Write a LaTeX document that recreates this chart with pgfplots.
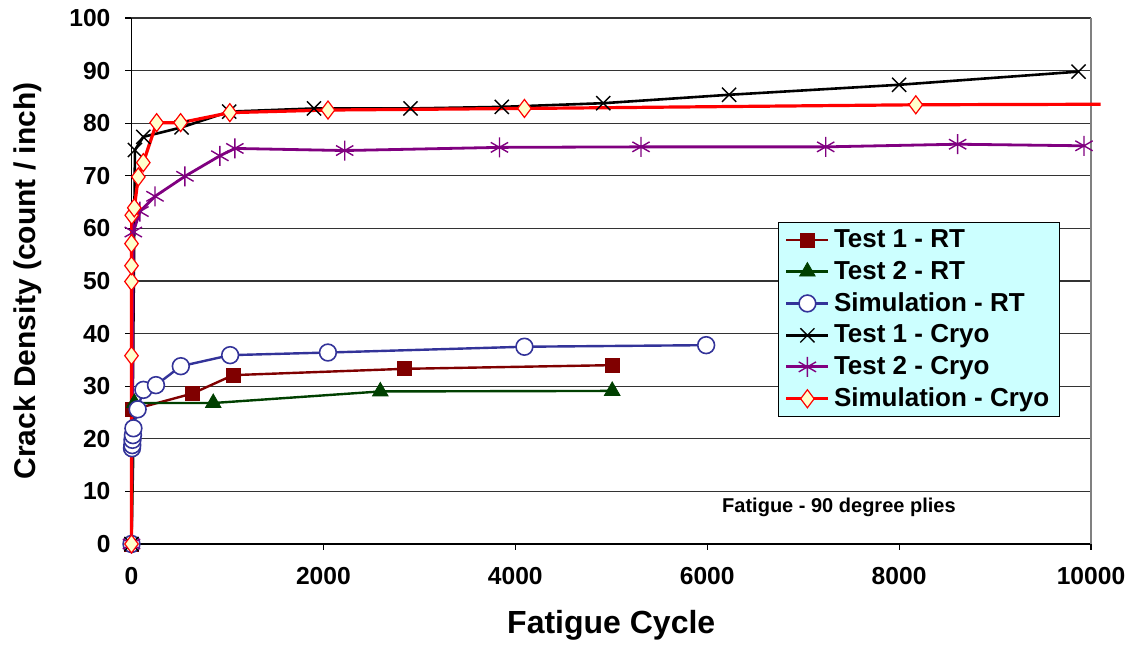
\documentclass[border=0pt]{standalone}
\usepackage{fontspec}
\setmainfont{Liberation Sans}
\usepackage{pgfplots}
\pgfplotsset{compat=1.18}

\definecolor{t1rt}{RGB}{128,0,0}
\definecolor{t2rt}{RGB}{0,64,0}
\definecolor{simrt}{RGB}{51,51,153}
\definecolor{t2cr}{RGB}{128,0,128}
\definecolor{legbg}{RGB}{204,255,255}
\definecolor{dfill}{RGB}{255,255,204}

\begin{document}
\begin{tikzpicture}
\begin{axis}[
  scale only axis,
  width=479.75pt, height=263pt,
  xmin=0, xmax=10000, ymin=0, ymax=100,
  enlargelimits=false,
  clip=false,
  axis x line*=bottom, axis y line*=left,
  axis line style={black, line width=0.8pt},
  xtick={0,2000,...,10000},
  ytick={0,10,...,100},
  scaled x ticks=false,
  tick align=outside,
  major tick length=3pt,
  tick style={black, line width=0.6pt},
  ymajorgrids,
  grid style={black!80, line width=0.6pt},
  /pgf/number format/assume math mode=true,
  /pgf/number format/1000 sep={},
  tick label style={font=\bfseries\fontsize{12.3}{14}\selectfont},
  xticklabel style={yshift=-5pt},
  yticklabel style={xshift=-4pt},
  xlabel={\bfseries Fatigue Cycle},
  xlabel style={font=\fontsize{16}{18}\selectfont, yshift=-6pt},
  ylabel={\bfseries Crack Density (count / inch)},
  ylabel style={font=\fontsize{15}{17}\selectfont, yshift=7pt},
  legend cell align=left,
  legend image code/.code={\draw[mark repeat=2,mark phase=2] plot coordinates {(0pt,0pt) (10.5pt,0pt) (21pt,0pt)};},
  legend style={at={(0.674,0.612)}, anchor=north west, fill=legbg, draw=black, line width=0.6pt,
    font=\bfseries\fontsize{13}{15}\selectfont, row sep=1.2pt, inner xsep=3pt, inner ysep=1.5pt},
]
\coordinate (sw) at (rel axis cs:0,0);
\coordinate (ne) at (rel axis cs:1,1);
\draw[gray, line width=0.7pt] (rel axis cs:1,0) -- (rel axis cs:1,1);

\addplot[t1rt, line width=1.2pt, mark=square*, mark size=3.5pt, mark options={fill=t1rt, draw=t1rt, line width=0.4pt}] coordinates {
 (0,0) (5,25.5) (634,28.6) (1059,32.1) (2844,33.3) (5010,34.0)
};
\addlegendentry{Test 1 - RT}

\addplot[t2rt, line width=1.2pt, mark=triangle*, mark size=4.5pt, mark options={fill=t2rt, draw=t2rt, line width=0.4pt}] coordinates {
 (0,0) (30,26.8) (852,26.8) (2593,29.0) (5010,29.1)
};
\addlegendentry{Test 2 - RT}

\addplot[simrt, line width=1.2pt, mark=*, mark size=4.2pt, mark options={fill=white, draw=simrt, line width=0.8pt}] coordinates {
 (0,0) (5,18.2) (8,18.8) (10,19.8) (15,20.7) (20,22.0) (64,25.6) (124,29.3) (255,30.2)
 (514,33.8) (1028,35.9) (2047,36.4) (4095,37.5) (5989,37.8)
};
\addlegendentry{Simulation - RT}

\addplot[black, line width=1.3pt, mark=x, mark size=5pt, mark options={line width=0.7pt}] coordinates {
 (0,0) (36,74.9) (123,77.4) (522,79.2) (1018,82.2) (1902,82.8) (2908,82.8) (3859,83.1)
 (4917,83.8) (6228,85.4) (8000,87.3) (9870,89.8)
};
\addlegendentry{Test 1 - Cryo}

\addplot[t2cr, line width=1.4pt, mark=asterisk, mark size=5pt, mark options={line width=0.7pt}] coordinates {
 (0,0) (19,59.3) (88,63.2) (245,66.1) (557,69.9) (921,73.8) (1077,75.2) (2222,74.8)
 (3835,75.4) (5310,75.5) (7235,75.5) (8610,76.0) (9927,75.7)
};
\addlegendentry{Test 2 - Cryo}

\addplot[red, line width=1.6pt, forget plot] coordinates {(8174,83.5) (10100,83.6)};

\addplot[red, line width=1.6pt, mark=diamond*, mark size=4.5pt, mark options={fill=dfill, draw=red, line width=0.6pt}] coordinates {
 (0,0) (0,35.8) (0,49.9) (0,52.9) (0,57.1) (3,62.5) (29,63.9) (71,69.8) (123,72.5)
 (262,80.1) (512,80.1) (1025,82.0) (2048,82.5) (4095,82.8) (8174,83.5)
};
\addlegendentry{Simulation - Cryo}

\node[font=\bfseries\fontsize{10}{12}\selectfont] at (axis cs:7373,7.0) {Fatigue - 90 degree plies};
\end{axis}
\pgfresetboundingbox
\path[use as bounding box] ([xshift=-65.75pt,yshift=-56pt]sw) rectangle ([xshift=22pt,yshift=9pt]ne);
\end{tikzpicture}
\end{document}
